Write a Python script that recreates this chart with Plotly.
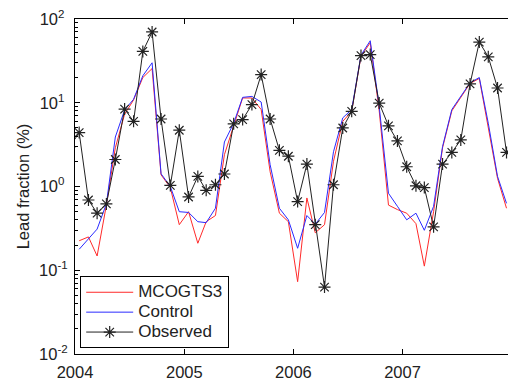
import plotly.graph_objects as go

# Monthly lead fraction (%), mid-month samples
obs_months = ["2003-12-15"] + [f"{y}-{m:02d}-15" for y in range(2004, 2008) for m in range(1, 13)]
model_months = obs_months[1:]

observed = [3.0,
            4.4, 0.69, 0.48, 0.62, 2.1, 8.4, 6.0, 41, 70, 6.4, 1.03, 4.7,
            0.75, 1.32, 0.90, 1.05, 1.41, 5.6, 6.3, 9.5, 21.7, 6.4, 2.7, 2.3,
            0.66, 1.85, 0.35, 0.063, 1.05, 5.0, 7.9, 36.6, 37.6, 9.9, 5.3, 3.5,
            1.72, 1.02, 0.97, 0.33, 1.85, 2.55, 3.6, 16.8, 53, 35.3, 15.0, 2.55]

mcogts3 = [0.225, 0.25, 0.148, 0.6, 2.9, 7.3, 10.8, 20, 25.6, 1.38, 0.97, 0.35,
           0.5, 0.21, 0.38, 0.45, 2.4, 5.2, 11.4, 11.4, 8.3, 1.5, 0.48, 0.38,
           0.073, 0.73, 0.28, 0.35, 2.0, 6.0, 7.9, 36, 52, 8, 0.6, 0.53,
           0.48, 0.36, 0.112, 0.5, 2.9, 8.0, 11.5, 17, 19.5, 5, 1.25, 0.55]

control = [0.178, 0.24, 0.31, 0.62, 3.9, 8.2, 11, 21, 30, 1.42, 1.0, 0.5,
           0.49, 0.38, 0.37, 0.55, 3.4, 5.7, 11.6, 11.9, 10.2, 1.82, 0.55, 0.40,
           0.183, 0.45, 0.355, 0.49, 2.6, 6.6, 8.3, 37, 55, 9, 0.83, 0.58,
           0.40, 0.48, 0.30, 0.58, 3.0, 8.3, 11.9, 17.3, 20, 5.7, 1.32, 0.63]

series_names = ["MCOGTS3", "Control", "Observed"]

year_ticks = ["2004-01-01", "2005-01-01", "2006-01-01", "2007-01-01"]
year_labels = ["2004", "2005", "2006", "2007"]
y_ticks = [0.01, 0.1, 1, 10, 100]
y_exponents = ["-2", "-1", "0", "1", "2"]

FONT = "Liberation Sans, Arial, sans-serif"
INK = "#222222"
NBSP = "\u00a0"

# keep the "10" bases left-aligned: pad the exponents that have no minus sign
y_labels = [f"10<sup>{e}{'' if e.startswith('-') else NBSP}</sup>" for e in y_exponents]


def legend_label(name):
    # larger glyphs inside a compact legend row
    return f'<span style="font-size:17px">{name}</span>'


fig = go.Figure()
fig.add_trace(go.Scatter(x=model_months, y=mcogts3, name=legend_label(series_names[0]),
                         mode="lines", line=dict(color="#ff2a2a", width=1)))
fig.add_trace(go.Scatter(x=model_months, y=control, name=legend_label(series_names[1]),
                         mode="lines", line=dict(color="#2a2aff", width=1)))
fig.add_trace(go.Scatter(x=obs_months, y=observed, name=legend_label(series_names[2]),
                         mode="lines+markers",
                         line=dict(color=INK, width=1),
                         marker=dict(symbol="asterisk-open", size=10,
                                     line=dict(color="black", width=1.2))))

fig.update_layout(
    width=509, height=381,
    margin=dict(l=75, r=1, t=19, b=27),
    paper_bgcolor="white", plot_bgcolor="white",
    font=dict(family=FONT, color=INK, size=16),
    showlegend=True,
    legend=dict(x=0.012, y=0.017, xanchor="left", yanchor="bottom",
                bgcolor="white", bordercolor="black", borderwidth=1,
                font=dict(size=13, family=FONT, color=INK),
                itemwidth=47, tracegroupgap=0),
)

fig.update_xaxes(
    type="date", range=["2004-01-01", "2007-12-20"],
    tickmode="array", tickvals=year_ticks, ticktext=year_labels,
    ticks="inside", ticklen=5, tickcolor="black",
    showline=True, linecolor="black", linewidth=1, mirror="ticks",
    showgrid=False, zeroline=False,
    tickfont=dict(size=16.5, family=FONT, color=INK),
    ticklabelstandoff=3,
)

fig.update_yaxes(
    type="log", range=[-2, 2],
    tickmode="array", tickvals=y_ticks, ticktext=y_labels,
    ticks="inside", ticklen=5, tickcolor="black",
    minor=dict(ticks="inside", ticklen=3, tickcolor="black", dtick="D1"),
    showline=True, linecolor="black", linewidth=1, mirror=False,
    showgrid=False, zeroline=False,
    tickfont=dict(size=16.5, family=FONT, color=INK),
    ticklabelstandoff=3,
    title=dict(text="Lead fraction (%)", font=dict(size=16.5, family=FONT, color=INK),
               standoff=5),
)

fig.write_html("out.html")
